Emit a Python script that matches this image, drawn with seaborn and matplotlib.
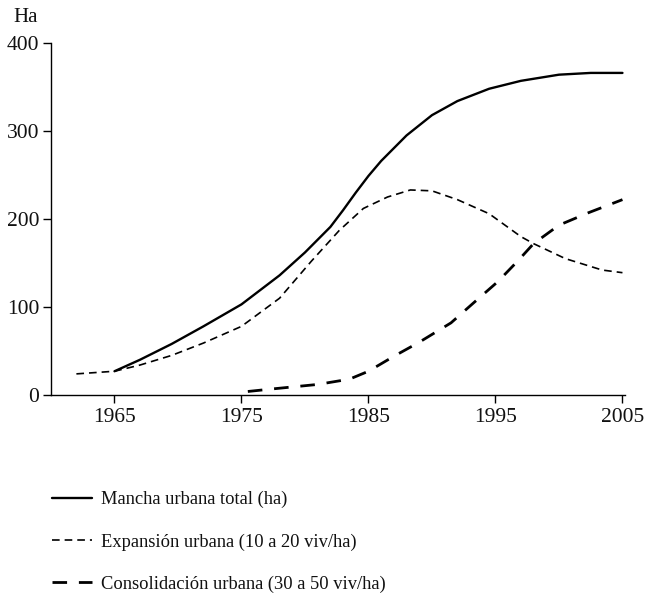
import matplotlib
matplotlib.use("Agg")
import matplotlib.pyplot as plt
import pandas as pd
import seaborn as sns

# values (year, hectares)
total_years = [1965, 1967, 1969.5, 1972, 1975, 1978, 1980, 1982, 1983, 1984, 1985, 1986, 1988, 1990, 1992, 1994.5, 1997, 2000, 2002.5, 2005]
total_ha = [27, 40, 58, 78, 103, 136, 162, 191, 210, 230, 249, 266, 295, 318, 334, 348, 357, 364, 366, 366]

expansion_years = [1962, 1965, 1967, 1969.5, 1972, 1975, 1978, 1980.5, 1982.7, 1984.6, 1986.5, 1988.3, 1990, 1992, 1994.5, 1997, 1998, 2000.5, 2003.4, 2005]
expansion_ha = [24, 27, 34, 45, 59, 78, 110, 152, 187, 212, 225, 233, 232, 222, 206, 180, 172, 155, 142, 139]

consolidation_years = [1975.5, 1977.5, 1981, 1983.5, 1985, 1987, 1989, 1991.5, 1993.3, 1995.2, 1996.8, 1998, 2000, 2002.3, 2005]
consolidation_ha = [4, 7, 12, 18, 27, 44, 60, 82, 105, 129, 153, 172, 193, 207, 222]

labels = ["Mancha urbana total (ha)",
          "Expansión urbana (10 a 20 viv/ha)",
          "Consolidación urbana (30 a 50 viv/ha)"]
xticks = [1965, 1975, 1985, 1995, 2005]
yticks = [0, 100, 200, 300, 400]

sns.set_style("ticks")
plt.rcParams['font.family'] = ['Liberation Serif', 'DejaVu Serif']
plt.rcParams['lines.scale_dashes'] = False

fig = plt.figure(figsize=(6.46, 5.99), dpi=100)
ax = fig.add_axes([51/646, 1 - 395/599, (625 - 51)/646, (395 - 43)/599])

total = pd.DataFrame({"year": total_years, "ha": total_ha})
expansion = pd.DataFrame({"year": expansion_years, "ha": expansion_ha})
consolidation = pd.DataFrame({"year": consolidation_years, "ha": consolidation_ha})

sns.lineplot(data=total, x="year", y="ha", ax=ax, color="black", linewidth=1.7,
             label=labels[0])
sns.lineplot(data=expansion, x="year", y="ha", ax=ax, color="black", linewidth=1.2,
             linestyle=(0, (5.5, 3.6)), label=labels[1])
sns.lineplot(data=consolidation, x="year", y="ha", ax=ax, color="black", linewidth=2.0,
             linestyle=(0, (10.5, 8.5)), label=labels[2])

ax.set_xlim(1960, 2005.2)
ax.set_ylim(0, 400)
ax.set_xticks(xticks)
ax.set_yticks(yticks)
ax.set_xlabel("")
ax.set_ylabel("")
sns.despine(ax=ax)
for side in ["left", "bottom"]:
    ax.spines[side].set_linewidth(1.0)
    ax.spines[side].set_color("black")
ax.tick_params(axis="both", labelsize=15.5, length=5.5, width=1.0, color="black",
               labelcolor="#111111")
ax.tick_params(axis="x", pad=4)
ax.tick_params(axis="y", pad=3)

fig.text(13/646, 1 - 18/599, "Ha", fontsize=15, va="center", ha="left", color="#111111")

ax.legend(loc="upper left", bbox_to_anchor=(52/646, 1 - 491/599),
          bbox_transform=fig.transFigure, frameon=False, fontsize=13.3,
          handlelength=2.15, handletextpad=0.52, labelspacing=1.35,
          borderpad=0, borderaxespad=0, labelcolor="#111111")

fig.savefig("out.png", dpi=100)
